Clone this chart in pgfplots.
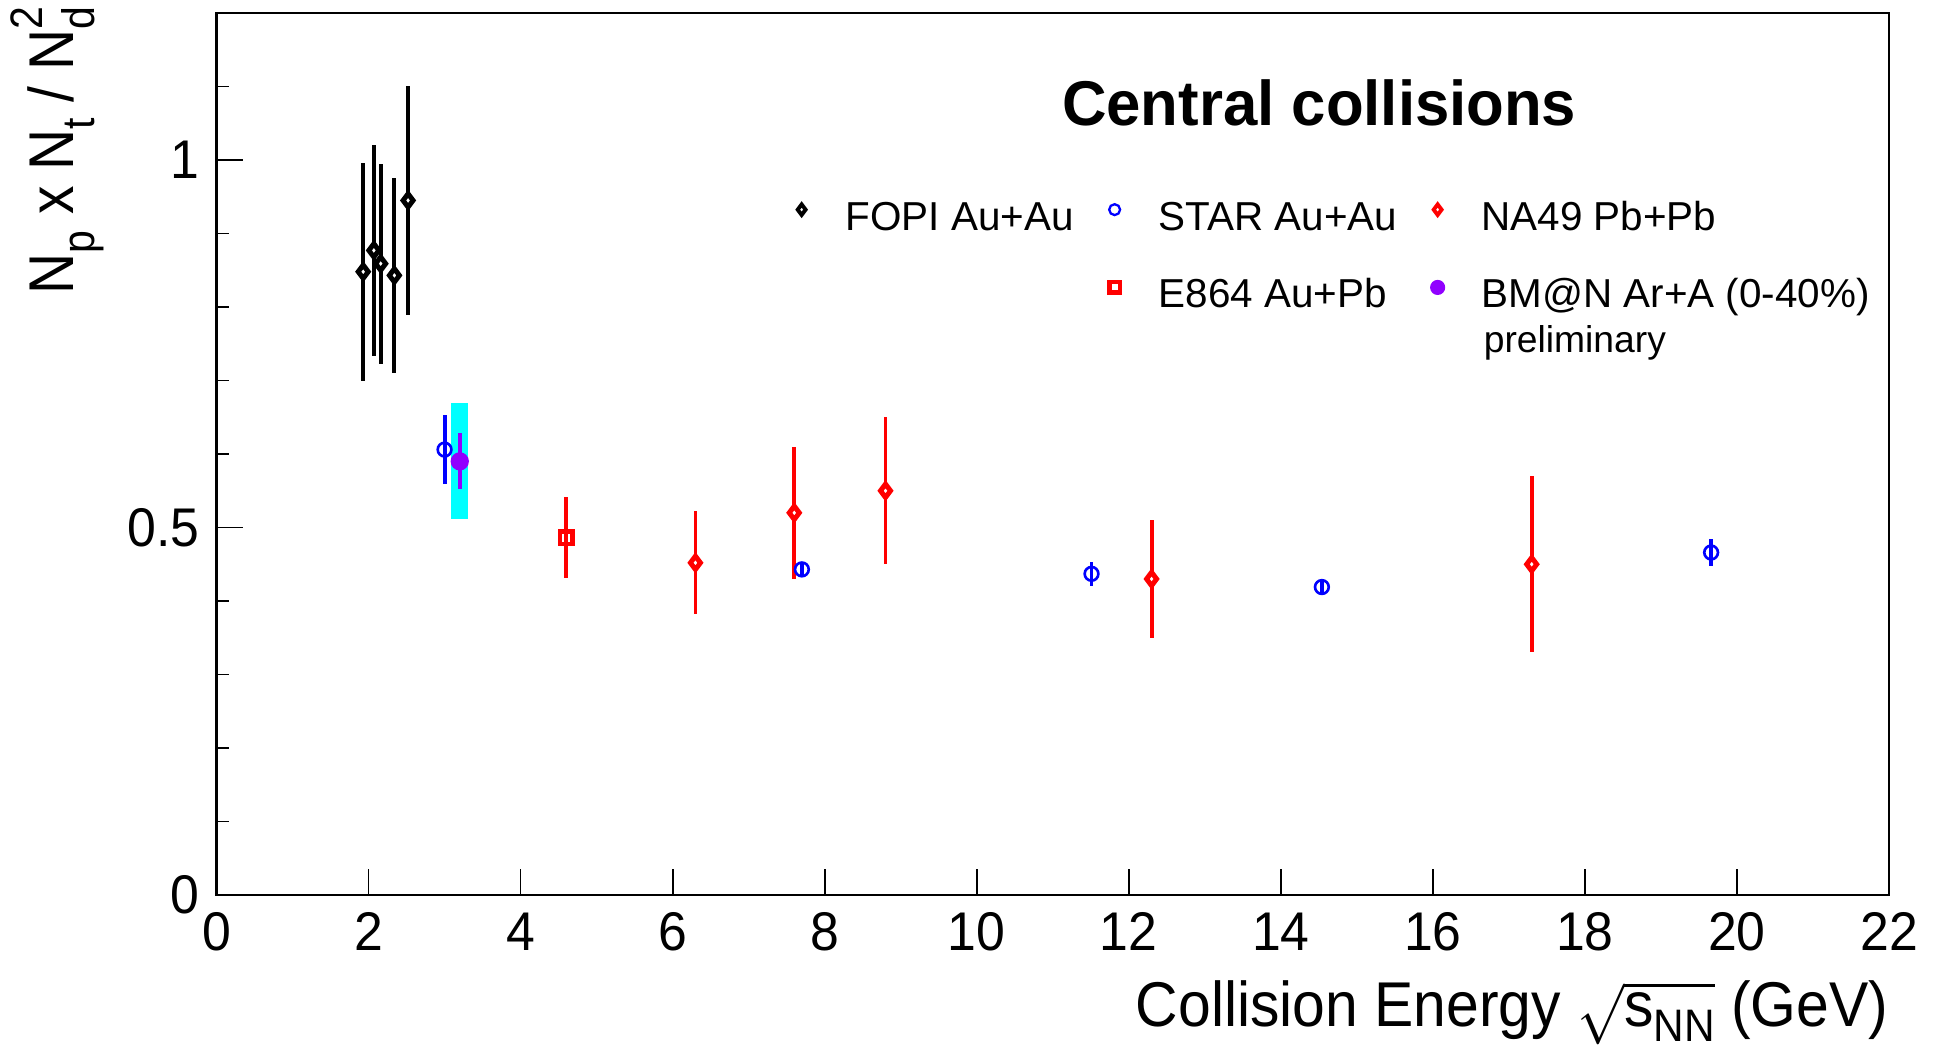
\documentclass[border=0pt]{standalone}
\usepackage{pgfplots}
\usepackage{pgfplotstable}
\pgfplotsset{compat=1.18}
\usepackage{fontspec}
\setmainfont{Liberation Sans}

\definecolor{bmnviolet}{RGB}{145,0,255}
\definecolor{systcyan}{RGB}{0,255,255}

% ROOT-like sub/superscripts
\newcommand\rsub[1]{\raisebox{-0.32em}{\scalebox{0.72}{#1}}}
\newcommand\rsup[1]{\raisebox{0.5em}{\scalebox{0.72}{#1}}}
% fixed-width legend text with a common strut
\newcommand\lgd[2]{\makebox[#1][l]{\rule[-0.09cm]{0pt}{0.55cm}#2}}

% sqrt(s_NN) [GeV], ratio, stat. error
\pgfplotstableread{
x    y     ey
1.93 0.848 0.148
2.07 0.877 0.143
2.16 0.859 0.136
2.34 0.843 0.133
2.52 0.945 0.156
}\fopi
\pgfplotstableread{
x     y     ey
3.0   0.606 0.047
7.7   0.443 0.010
11.51 0.437 0.016
14.54 0.419 0.008
19.66 0.466 0.019
}\star
\pgfplotstableread{
x    y     ey
6.3  0.452 0.070
7.6  0.520 0.090
8.8  0.550 0.100
12.3 0.430 0.080
17.3 0.450 0.120
}\naxlix
\pgfplotstableread{
x    y     ey
4.6  0.486 0.055
}\eeight
\pgfplotstableread{
x    y     ey
3.2  0.590 0.038
}\bmn

\begin{document}
\begin{tikzpicture}
\useasboundingbox (-2.165cm,-1.52cm) rectangle (17.235cm,8.95cm);
\begin{axis}[
  at={(0,0)}, anchor=south west,
  scale only axis, width=16.725cm, height=8.82cm,
  xmin=0, xmax=22, ymin=0, ymax=1.2,
  xtick={0,2,...,22}, ytick={0,0.5,1},
  minor ytick={0.1,0.2,0.3,0.4,0.6,0.7,0.8,0.9,1.1},
  tick align=inside, tick pos=left,
  major tick length=0.26cm, minor tick length=0.13cm,
  every tick/.style={black, line width=0.5pt},
  axis line style={line width=0.6pt},
  /pgf/number format/assume math mode=true,
  tick label style={font=\fontsize{15.5}{18}\selectfont},
  xticklabel={\scalebox{0.95}[1]{\pgfmathprintnumber{\tick}}},
  yticklabel={\scalebox{0.95}[1]{\pgfmathprintnumber{\tick}}},
  xticklabel style={inner sep=0pt, anchor=north, yshift=-0.17cm},
  yticklabel style={inner sep=0pt, anchor=east, xshift=-0.165cm},
  clip=false,
  legend columns=3,
  legend cell align=left,
  legend image code/.code={%
    \draw[#1] plot coordinates {(0cm,0cm)};
    \path[draw=none, fill=none] (-0.2cm,-0.1cm) rectangle (0.2cm,0.1cm);},
  legend style={draw=none, fill=none, inner sep=0pt, outer sep=0pt,
    at={(0.3379,0.8061)}, anchor=north west,
    row sep=0.265cm,
    nodes={inner sep=0pt, anchor=west},
    /tikz/every odd column/.style={column sep=0.24cm},
    /tikz/every even column/.style={column sep=0.1cm},
    font=\fontsize{11.5}{13}\selectfont},
]

% BM@N systematic box
\addplot[fill=systcyan, draw=none, forget plot]
  coordinates {(3.09,0.512) (3.31,0.512) (3.31,0.670) (3.09,0.670)} -- cycle;

\addplot[forget plot, only marks, black, mark=diamond*, mark size=1.9pt,
  mark options={fill=white, draw=black, line width=1.4pt},
  error bars/.cd, y dir=both, y explicit, error mark=none,
  error bar style={line width=1.1pt, black}]
  table[x=x, y=y, y error=ey] {\fopi};

\addplot[forget plot, only marks, blue, mark=o, mark size=1.95pt,
  mark options={draw=blue, line width=0.75pt},
  error bars/.cd, y dir=both, y explicit, error mark=none,
  error bar style={line width=1.1pt, blue}]
  table[x=x, y=y, y error=ey] {\star};

\addplot[forget plot, only marks, red, mark=diamond*, mark size=1.9pt,
  mark options={fill=white, draw=red, line width=1.4pt},
  error bars/.cd, y dir=both, y explicit, error mark=none,
  error bar style={line width=1.1pt, red}]
  table[x=x, y=y, y error=ey] {\naxlix};

\addplot[forget plot, only marks, red, mark=square, mark size=1.8pt,
  mark options={draw=red, line width=1.3pt},
  error bars/.cd, y dir=both, y explicit, error mark=none,
  error bar style={line width=1.1pt, red}]
  table[x=x, y=y, y error=ey] {\eeight};

\addplot[forget plot, only marks, bmnviolet, mark=*, mark size=2.4pt,
  mark options={fill=bmnviolet, draw=bmnviolet},
  error bars/.cd, y dir=both, y explicit, error mark=none,
  error bar style={line width=1.1pt, bmnviolet}]
  table[x=x, y=y, y error=ey] {\bmn};

% legend
\addlegendimage{only marks, mark=diamond*, mark size=1.5pt,
  mark options={fill=white, draw=black, line width=1.1pt}}
\addlegendentry{\lgd{2.39cm}{FOPI Au+Au}}
\addlegendimage{only marks, mark=o, mark size=1.55pt,
  mark options={draw=blue, line width=0.65pt}}
\addlegendentry{\lgd{2.49cm}{STAR Au+Au}}
\addlegendimage{only marks, mark=diamond*, mark size=1.5pt,
  mark options={fill=white, draw=red, line width=1.1pt}}
\addlegendentry{\lgd{2.6cm}{NA49 Pb+Pb}}
\addlegendimage{empty legend}
\addlegendentry{}
\addlegendimage{only marks, mark=square, mark size=1.45pt,
  mark options={draw=red, line width=1.2pt}}
\addlegendentry{\lgd{2.49cm}{E864 Au+Pb}}
\addlegendimage{only marks, mark=*, mark size=1.95pt,
  mark options={fill=bmnviolet, draw=bmnviolet}}
\addlegendentry{\lgd{2.6cm}{BM@N Ar+A (0-40\%)}}

% texts
\node[anchor=base west, inner sep=0pt, font=\bfseries\fontsize{18}{20}\selectfont]
  at (rel axis cs:0.5052,0.8730) {\scalebox{0.975}[1]{Central collisions}};
\node[anchor=base west, inner sep=0pt, font=\fontsize{10.6}{12}\selectfont]
  at (rel axis cs:0.7573,0.6156) {preliminary};
\node[anchor=base east, inner sep=0pt, font=\fontsize{18}{20}\selectfont]
  at ([yshift=-1.31cm]rel axis cs:1,0)
  {\scalebox{0.93}[1]{Collision Energy \smash{$\sqrt{\mbox{s\raisebox{-0.24em}{\scalebox{0.72}{NN}}}}$} (GeV)}};
\node[rotate=90, anchor=base east, inner sep=0pt, font=\fontsize{18}{20}\selectfont]
  at ([xshift=-1.425cm,yshift=0.07cm]rel axis cs:0,1)
  {\scalebox{0.9}[1]{N\rsub{p} x N\rsub{t} / N\rlap{\rsup{2}}\rsub{d}}};
\end{axis}
\end{tikzpicture}
\end{document}
